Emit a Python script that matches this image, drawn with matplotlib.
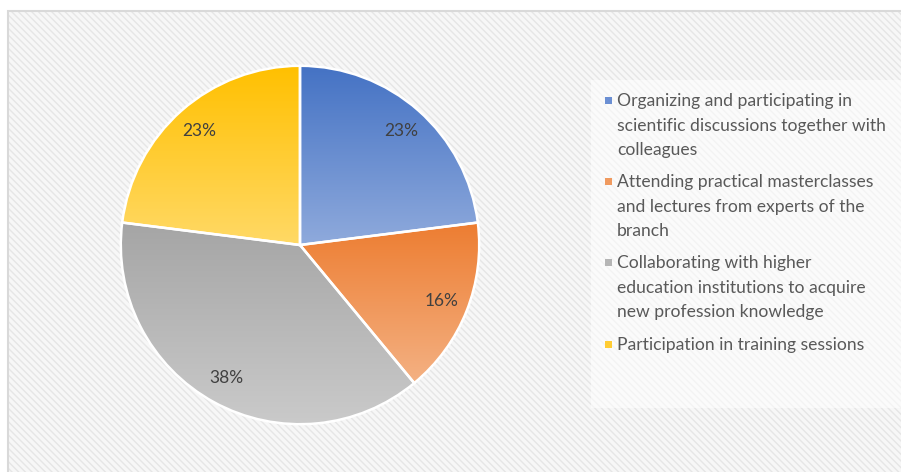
import matplotlib.pyplot as plt
import numpy as np
from matplotlib.colors import LinearSegmentedColormap
from matplotlib.patches import Rectangle

plt.rcParams["font.family"] = ["Lato", "DejaVu Sans"]
plt.rcParams["hatch.linewidth"] = 1.0

labels = [
    "Organizing and participating in\nscientific discussions together with\ncolleagues",
    "Attending practical masterclasses\nand lectures from experts of the\nbranch",
    "Collaborating with higher\neducation institutions to acquire\nnew profession knowledge",
    "Participation in training sessions",
]
values = [23, 16, 38, 23]
top_colors = ["#4472C4", "#ED7D31", "#A5A5A5", "#FFC000"]
bottom_colors = ["#8FAADC", "#F4B183", "#CACACA", "#FFD966"]
legend_colors = ["#6B8FD3", "#F09A5F", "#B5B5B5", "#FFCC33"]

W, H = 901, 472
fig = plt.figure(figsize=(W / 100, H / 100), dpi=100)
fig.patch.set_facecolor("white")

# chart area: hatched background + light border
x0, ytop = 8 / W, 1 - 11 / H
fig.add_artist(Rectangle((x0, -0.05), 1.1, ytop + 0.05, transform=fig.transFigure,
                         facecolor="#f7f7f7", edgecolor="#e6e6e6", linewidth=0,
                         hatch="\\\\\\\\\\", zorder=0))
fig.add_artist(Rectangle((x0, -0.05), 1.1, ytop + 0.05, transform=fig.transFigure,
                         facecolor="none", edgecolor="#d9d9d9", linewidth=1.5, zorder=1))
# legend panel
fig.add_artist(Rectangle((591 / W, 1 - 408 / H), 1, (408 - 80) / H, transform=fig.transFigure,
                         facecolor="white", alpha=0.55, linewidth=0, zorder=1))

# pie
cx, cy, r = 300, 245, 181
ax = fig.add_axes([(cx - r) / W, (H - cy - r) / H, 2 * r / W, 2 * r / H])
ax.set_zorder(2)
wedges, texts, autotexts = ax.pie(
    values, startangle=90, counterclock=False, autopct="%.0f%%", pctdistance=0.85,
    colors=top_colors, wedgeprops=dict(edgecolor="white", linewidth=1.8),
    textprops=dict(color="#404040", fontsize=12.5),
)
grad = np.linspace(0, 1, 256).reshape(-1, 1)
for w, c0, c1 in zip(wedges, top_colors, bottom_colors):
    ext = w.get_path().get_extents()
    cmap = LinearSegmentedColormap.from_list("g", [c0, c1])
    im = ax.imshow(grad, cmap=cmap, aspect="auto", interpolation="bilinear",
                   extent=(ext.x0, ext.x1, ext.y1, ext.y0), origin="lower", zorder=1)
    im.set_clip_path(w.get_path(), w.get_transform())
    w.set_facecolor("none")
    w.set_zorder(3)
for t in autotexts:
    t.set_zorder(4)
ax.set_xlim(-1.01, 1.01)
ax.set_ylim(-1.01, 1.01)
ax.axis("off")

# legend
first_line_y = [100, 181, 262, 344]
for lab, col, y in zip(labels, legend_colors, first_line_y):
    fig.add_artist(Rectangle((605 / W, 1 - (y + 3.5) / H), 7 / W, 7 / H,
                             transform=fig.transFigure, facecolor=col,
                             linewidth=0, zorder=3))
    fig.text(617 / W, 1 - (y - 7) / H, lab, ha="left", va="top", fontsize=12.6,
             color="#595959", linespacing=1.66, zorder=3)

fig.savefig("out.png", dpi=100)
